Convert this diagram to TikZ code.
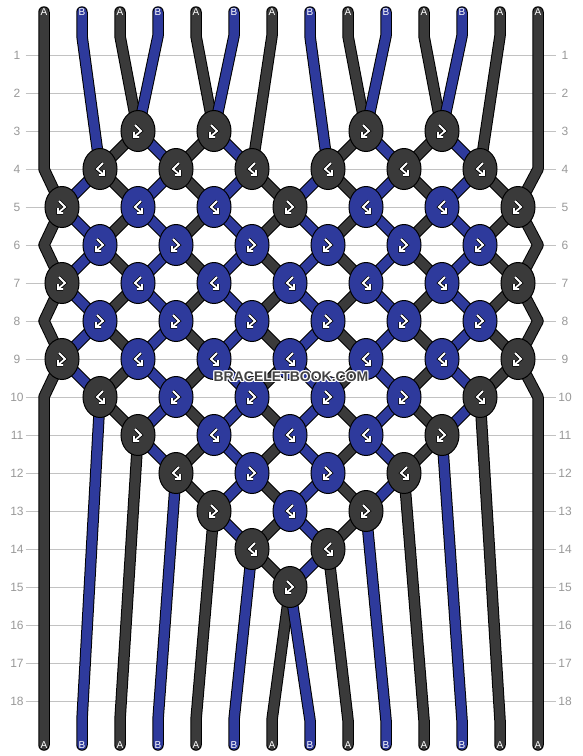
\documentclass[tikz,border=0pt]{standalone}
\usepackage{fontspec}
\setmainfont{Liberation Sans}
\usetikzlibrary{shapes.geometric}
\definecolor{darkA}{RGB}{58,58,58}
\definecolor{blueB}{RGB}{46,58,156}
\definecolor{rowgray}{RGB}{153,153,153}
\definecolor{linegray}{RGB}{194,194,194}
\definecolor{markgray}{RGB}{66,66,66}
\pgfdeclarelayer{grid}
\pgfdeclarelayer{strands}
\pgfsetlayers{grid,strands,main}
\newcommand\haloed[1]{%
  \makebox[0pt][l]{\color{white}\hspace*{-1pt}#1}%
  \makebox[0pt][l]{\color{white}\hspace*{1pt}#1}%
  \makebox[0pt][l]{\color{white}\raisebox{1pt}{#1}}%
  \makebox[0pt][l]{\color{white}\raisebox{-1pt}{#1}}%
  \makebox[0pt][l]{\color{white}\hspace*{1pt}\raisebox{1pt}{#1}}%
  \makebox[0pt][l]{\color{white}\hspace*{-1pt}\raisebox{-1pt}{#1}}%
  \makebox[0pt][l]{\color{white}\hspace*{1pt}\raisebox{-1pt}{#1}}%
  \makebox[0pt][l]{\color{white}\hspace*{-1pt}\raisebox{1pt}{#1}}%
  #1}

\begin{document}
\begin{tikzpicture}[x=1pt,y=-1pt]
\tikzstyle{every node}+=[inner sep=0pt]
\tikzstyle{rownum}=[text=rowgray, font=\fontsize{12}{14}\selectfont, minimum width=17pt]
\tikzstyle{rowline}=[draw=linegray, line width=1pt]
\tikzstyle{tag}=[text=white, font=\fontsize{10}{12}\selectfont]
\tikzstyle{strandA}=[draw=black, line width=1pt, double=darkA, double distance=9.5pt, line cap=round, line join=round]
\tikzstyle{strandB}=[strandA, double=blueB]
\tikzstyle{glyph}=[draw=black, line width=0.8pt, double=white, double distance=1.8pt]
\tikzstyle{knot}=[ellipse, draw=black, line width=1pt, minimum width=34pt, minimum height=41pt]
\tikzstyle{kfbA}=[knot, fill=darkA, path picture={\draw[glyph] ([shift={(-3,-6)}]path picture bounding box.center) -- ++(6,6) -- ++(-7,6) ++(0,-5) -- ++(0,5) -- ++(5,0);}]
\tikzstyle{kbfA}=[knot, fill=darkA, path picture={\draw[glyph] ([shift={(3,-6)}]path picture bounding box.center) -- ++(-6,6) -- ++(7,6) ++(0,-5) -- ++(0,5) -- ++(-5,0);}]
\tikzstyle{kfbB}=[kfbA, fill=blueB]
\tikzstyle{kbfB}=[kbfA, fill=blueB]
\useasboundingbox (0,0) rectangle (582,756);

\begin{pgfonlayer}{grid}
\fill [white] (0,0) rectangle (582,756);
\node [rownum] (ln1) at (17,55) {1};
\node [rownum] (rn1) at (565,55) {1};
\draw [rowline] (ln1) -- (rn1);
\node [rownum] (ln2) at (17,93) {2};
\node [rownum] (rn2) at (565,93) {2};
\draw [rowline] (ln2) -- (rn2);
\node [rownum] (ln3) at (17,131) {3};
\node [rownum] (rn3) at (565,131) {3};
\draw [rowline] (ln3) -- (rn3);
\node [rownum] (ln4) at (17,169) {4};
\node [rownum] (rn4) at (565,169) {4};
\draw [rowline] (ln4) -- (rn4);
\node [rownum] (ln5) at (17,207) {5};
\node [rownum] (rn5) at (565,207) {5};
\draw [rowline] (ln5) -- (rn5);
\node [rownum] (ln6) at (17,245) {6};
\node [rownum] (rn6) at (565,245) {6};
\draw [rowline] (ln6) -- (rn6);
\node [rownum] (ln7) at (17,283) {7};
\node [rownum] (rn7) at (565,283) {7};
\draw [rowline] (ln7) -- (rn7);
\node [rownum] (ln8) at (17,321) {8};
\node [rownum] (rn8) at (565,321) {8};
\draw [rowline] (ln8) -- (rn8);
\node [rownum] (ln9) at (17,359) {9};
\node [rownum] (rn9) at (565,359) {9};
\draw [rowline] (ln9) -- (rn9);
\node [rownum] (ln10) at (17,397) {10};
\node [rownum] (rn10) at (565,397) {10};
\draw [rowline] (ln10) -- (rn10);
\node [rownum] (ln11) at (17,435) {11};
\node [rownum] (rn11) at (565,435) {11};
\draw [rowline] (ln11) -- (rn11);
\node [rownum] (ln12) at (17,473) {12};
\node [rownum] (rn12) at (565,473) {12};
\draw [rowline] (ln12) -- (rn12);
\node [rownum] (ln13) at (17,511) {13};
\node [rownum] (rn13) at (565,511) {13};
\draw [rowline] (ln13) -- (rn13);
\node [rownum] (ln14) at (17,549) {14};
\node [rownum] (rn14) at (565,549) {14};
\draw [rowline] (ln14) -- (rn14);
\node [rownum] (ln15) at (17,587) {15};
\node [rownum] (rn15) at (565,587) {15};
\draw [rowline] (ln15) -- (rn15);
\node [rownum] (ln16) at (17,625) {16};
\node [rownum] (rn16) at (565,625) {16};
\draw [rowline] (ln16) -- (rn16);
\node [rownum] (ln17) at (17,663) {17};
\node [rownum] (rn17) at (565,663) {17};
\draw [rowline] (ln17) -- (rn17);
\node [rownum] (ln18) at (17,701) {18};
\node [rownum] (rn18) at (565,701) {18};
\draw [rowline] (ln18) -- (rn18);
\end{pgfonlayer}

% strand ends, top and bottom
\node [tag] (top0) at (44,12) {A};
\node [tag] (top1) at (82,12) {B};
\node [tag] (top2) at (120,12) {A};
\node [tag] (top3) at (158,12) {B};
\node [tag] (top4) at (196,12) {A};
\node [tag] (top5) at (234,12) {B};
\node [tag] (top6) at (272,12) {A};
\node [tag] (top7) at (310,12) {B};
\node [tag] (top8) at (348,12) {A};
\node [tag] (top9) at (386,12) {B};
\node [tag] (top10) at (424,12) {A};
\node [tag] (top11) at (462,12) {B};
\node [tag] (top12) at (500,12) {A};
\node [tag] (top13) at (538,12) {A};
\node [tag] (bot0) at (44,745) {A};
\node [tag] (bot1) at (82,745) {B};
\node [tag] (bot2) at (120,745) {A};
\node [tag] (bot3) at (158,745) {B};
\node [tag] (bot4) at (196,745) {A};
\node [tag] (bot5) at (234,745) {B};
\node [tag] (bot6) at (272,745) {A};
\node [tag] (bot7) at (310,745) {B};
\node [tag] (bot8) at (348,745) {A};
\node [tag] (bot9) at (386,745) {B};
\node [tag] (bot10) at (424,745) {A};
\node [tag] (bot11) at (462,745) {B};
\node [tag] (bot12) at (500,745) {A};
\node [tag] (bot13) at (538,745) {A};

% knots
\node [kfbA] (k3-2) at (138,131) {};
\node [kfbA] (k3-4) at (214,131) {};
\node [kfbA] (k3-8) at (366,131) {};
\node [kfbA] (k3-10) at (442,131) {};
\node [kbfA] (k4-1) at (100,169) {};
\node [kbfA] (k4-3) at (176,169) {};
\node [kbfA] (k4-5) at (252,169) {};
\node [kbfA] (k4-7) at (328,169) {};
\node [kbfA] (k4-9) at (404,169) {};
\node [kbfA] (k4-11) at (480,169) {};
\node [kfbA] (k5-0) at (62,207) {};
\node [kbfB] (k5-2) at (138,207) {};
\node [kbfB] (k5-4) at (214,207) {};
\node [kfbA] (k5-6) at (290,207) {};
\node [kbfB] (k5-8) at (366,207) {};
\node [kbfB] (k5-10) at (442,207) {};
\node [kfbA] (k5-12) at (518,207) {};
\node [kfbB] (k6-1) at (100,245) {};
\node [kfbB] (k6-3) at (176,245) {};
\node [kfbB] (k6-5) at (252,245) {};
\node [kfbB] (k6-7) at (328,245) {};
\node [kfbB] (k6-9) at (404,245) {};
\node [kfbB] (k6-11) at (480,245) {};
\node [kfbA] (k7-0) at (62,283) {};
\node [kbfB] (k7-2) at (138,283) {};
\node [kbfB] (k7-4) at (214,283) {};
\node [kbfB] (k7-6) at (290,283) {};
\node [kbfB] (k7-8) at (366,283) {};
\node [kbfB] (k7-10) at (442,283) {};
\node [kfbA] (k7-12) at (518,283) {};
\node [kfbB] (k8-1) at (100,321) {};
\node [kfbB] (k8-3) at (176,321) {};
\node [kfbB] (k8-5) at (252,321) {};
\node [kfbB] (k8-7) at (328,321) {};
\node [kfbB] (k8-9) at (404,321) {};
\node [kfbB] (k8-11) at (480,321) {};
\node [kfbA] (k9-0) at (62,359) {};
\node [kbfB] (k9-2) at (138,359) {};
\node [kbfB] (k9-4) at (214,359) {};
\node [kbfB] (k9-6) at (290,359) {};
\node [kbfB] (k9-8) at (366,359) {};
\node [kbfB] (k9-10) at (442,359) {};
\node [kfbA] (k9-12) at (518,359) {};
\node [kbfA] (k10-1) at (100,397) {};
\node [kfbB] (k10-3) at (176,397) {};
\node [kfbB] (k10-5) at (252,397) {};
\node [kfbB] (k10-7) at (328,397) {};
\node [kfbB] (k10-9) at (404,397) {};
\node [kbfA] (k10-11) at (480,397) {};
\node [kfbA] (k11-2) at (138,435) {};
\node [kbfB] (k11-4) at (214,435) {};
\node [kbfB] (k11-6) at (290,435) {};
\node [kbfB] (k11-8) at (366,435) {};
\node [kfbA] (k11-10) at (442,435) {};
\node [kbfA] (k12-3) at (176,473) {};
\node [kfbB] (k12-5) at (252,473) {};
\node [kfbB] (k12-7) at (328,473) {};
\node [kbfA] (k12-9) at (404,473) {};
\node [kfbA] (k13-4) at (214,511) {};
\node [kbfB] (k13-6) at (290,511) {};
\node [kfbA] (k13-8) at (366,511) {};
\node [kbfA] (k14-5) at (252,549) {};
\node [kbfA] (k14-7) at (328,549) {};
\node [kfbA] (k15-6) at (290,587) {};

% strands, under the knots
\begin{pgfonlayer}{strands}
\draw [strandA] (top0.center) -- ++(0,157) -- (k5-0.center) -- ++(-18,38) -- (k7-0.center) -- ++(-18,38) -- (k9-0.center) -- ++(-18,38) -- (bot0.center);
\draw [strandB] (top1.center) -- ++(0,24) -- (k4-1.center) -- (k5-0.center) -- (k6-1.center) -- (k7-0.center) -- (k8-1.center) -- (k9-0.center) -- (k10-1.center) -- ([yshift=25pt]bot1.center) -- (bot1.center);
\draw [strandA] (top2.center) -- ++(0,24) -- (k3-2.center) -- (k4-1.center) -- (k5-2.center) -- (k6-1.center) -- (k7-2.center) -- (k8-1.center) -- (k9-2.center) -- (k10-1.center) -- (k11-2.center) -- ([yshift=25pt]bot2.center) -- (bot2.center);
\draw [strandB] (top3.center) -- ++(0,24) -- (k3-2.center) -- (k4-3.center) -- (k5-2.center) -- (k6-3.center) -- (k7-2.center) -- (k8-3.center) -- (k9-2.center) -- (k10-3.center) -- (k11-2.center) -- (k12-3.center) -- ([yshift=25pt]bot3.center) -- (bot3.center);
\draw [strandA] (top4.center) -- ++(0,24) -- (k3-4.center) -- (k4-3.center) -- (k5-4.center) -- (k6-3.center) -- (k7-4.center) -- (k8-3.center) -- (k9-4.center) -- (k10-3.center) -- (k11-4.center) -- (k12-3.center) -- (k13-4.center) -- ([yshift=25pt]bot4.center) -- (bot4.center);
\draw [strandB] (top5.center) -- ++(0,24) -- (k3-4.center) -- (k4-5.center) -- (k5-4.center) -- (k6-5.center) -- (k7-4.center) -- (k8-5.center) -- (k9-4.center) -- (k10-5.center) -- (k11-4.center) -- (k12-5.center) -- (k13-4.center) -- (k14-5.center) -- ([yshift=25pt]bot5.center) -- (bot5.center);
\draw [strandA] (top6.center) -- ++(0,24) -- (k4-5.center) -- (k5-6.center) -- (k6-5.center) -- (k7-6.center) -- (k8-5.center) -- (k9-6.center) -- (k10-5.center) -- (k11-6.center) -- (k12-5.center) -- (k13-6.center) -- (k14-5.center) -- (k15-6.center) -- ([yshift=25pt]bot6.center) -- (bot6.center);
\draw [strandB] (top7.center) -- ++(0,24) -- (k4-7.center) -- (k5-6.center) -- (k6-7.center) -- (k7-6.center) -- (k8-7.center) -- (k9-6.center) -- (k10-7.center) -- (k11-6.center) -- (k12-7.center) -- (k13-6.center) -- (k14-7.center) -- (k15-6.center) -- ([yshift=25pt]bot7.center) -- (bot7.center);
\draw [strandA] (top8.center) -- ++(0,24) -- (k3-8.center) -- (k4-7.center) -- (k5-8.center) -- (k6-7.center) -- (k7-8.center) -- (k8-7.center) -- (k9-8.center) -- (k10-7.center) -- (k11-8.center) -- (k12-7.center) -- (k13-8.center) -- (k14-7.center) -- ([yshift=25pt]bot8.center) -- (bot8.center);
\draw [strandB] (top9.center) -- ++(0,24) -- (k3-8.center) -- (k4-9.center) -- (k5-8.center) -- (k6-9.center) -- (k7-8.center) -- (k8-9.center) -- (k9-8.center) -- (k10-9.center) -- (k11-8.center) -- (k12-9.center) -- (k13-8.center) -- ([yshift=25pt]bot9.center) -- (bot9.center);
\draw [strandA] (top10.center) -- ++(0,24) -- (k3-10.center) -- (k4-9.center) -- (k5-10.center) -- (k6-9.center) -- (k7-10.center) -- (k8-9.center) -- (k9-10.center) -- (k10-9.center) -- (k11-10.center) -- (k12-9.center) -- ([yshift=25pt]bot10.center) -- (bot10.center);
\draw [strandB] (top11.center) -- ++(0,24) -- (k3-10.center) -- (k4-11.center) -- (k5-10.center) -- (k6-11.center) -- (k7-10.center) -- (k8-11.center) -- (k9-10.center) -- (k10-11.center) -- (k11-10.center) -- ([yshift=25pt]bot11.center) -- (bot11.center);
\draw [strandA] (top12.center) -- ++(0,24) -- (k4-11.center) -- (k5-12.center) -- (k6-11.center) -- (k7-12.center) -- (k8-11.center) -- (k9-12.center) -- (k10-11.center) -- ([yshift=25pt]bot12.center) -- (bot12.center);
\draw [strandA] (top13.center) -- ++(0,157) -- (k5-12.center) -- ++(20,38) -- (k7-12.center) -- ++(20,38) -- (k9-12.center) -- ++(20,38) -- (bot13.center);
\end{pgfonlayer}

\node [text=markgray, font=\fontsize{14}{16}\selectfont\bfseries] (site) at (291,377) {\haloed{BRACELETBOOK.COM}};
\end{tikzpicture}
\end{document}
